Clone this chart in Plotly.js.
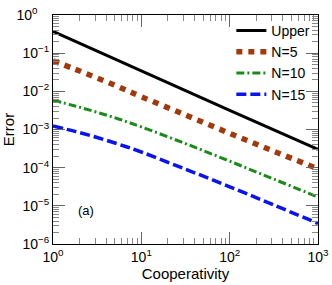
<!DOCTYPE html>
<html>
<head>
<meta charset="utf-8">
<script src="https://cdn.plot.ly/plotly-3.0.1.min.js"></script>
<style>
html,body{margin:0;padding:0;background:#fff;}
#chart{width:332px;height:285px;}
</style>
</head>
<body>
<div id="chart"></div>
<script>
// Data (x = cooperativity, y = error)
var xUpper = [1, 10, 100, 1000];
var yUpper = [0.372, 0.0339, 0.00316, 0.000302];

var xN = [1, 1.778, 3.162, 5.623, 10, 31.62, 100, 316.2, 1000];
var yN5  = [0.0631, 0.0380, 0.0224, 0.0129, 0.00724, 0.0024, 0.000794, 0.000269, 0.0000933];
var yN10 = [0.00589, 0.00412, 0.00282, 0.00186, 0.00117, 0.000427, 0.000148, 0.0000501, 0.000017];
var yN15 = [0.00123, 0.000891, 0.000617, 0.000407, 0.000257, 0.0000912, 0.0000316, 0.0000105, 0.00000347];

var seriesNames = ['Upper', 'N=5', 'N=10', 'N=15'];

var xTickVals = [1, 10, 100, 1000];
var xTickText = ['10<sup>0</sup>', '10<sup>1</sup>', '10<sup>2</sup>', '10<sup>3</sup>'];
var yTickVals = [1, 0.1, 0.01, 0.001, 0.0001, 0.00001, 0.000001];
var yTickText = ['10<sup>0</sup>&nbsp;&nbsp;&nbsp;', '10<sup>\u22121</sup>', '10<sup>\u22122</sup>', '10<sup>\u22123</sup>',
                 '10<sup>\u22124</sup>', '10<sup>\u22125</sup>', '10<sup>\u22126</sup>'];

var FONT = 'Liberation Sans, Arial, Helvetica, sans-serif';

var traces = [
  {x: xUpper, y: yUpper, name: seriesNames[0], mode: 'lines',
   line: {color: '#000000', width: 3}},
  {x: xN, y: yN5, name: seriesNames[1], mode: 'lines',
   line: {color: '#a3380a', width: 5.5, dash: '6px,6px', shape: 'spline', smoothing: 1}},
  {x: xN, y: yN10, name: seriesNames[2], mode: 'lines',
   line: {color: '#178c17', width: 3, dash: '8px,3px,2px,3px', shape: 'spline', smoothing: 1}},
  {x: xN, y: yN15, name: seriesNames[3], mode: 'lines',
   line: {color: '#0a14f0', width: 3.5, dash: '10px,4px', shape: 'spline', smoothing: 1}}
];

var axisCommon = {
  type: 'log',
  showline: true, linecolor: '#000', linewidth: 1,
  mirror: 'allticks',
  ticks: 'inside', ticklen: 12, tickwidth: 1, tickcolor: '#666',
  showgrid: false, zeroline: false,
  tickmode: 'array',
  tickfont: {family: FONT, size: 14, color: '#000'},
  minor: {ticks: 'inside', ticklen: 6, tickwidth: 1, tickcolor: '#888', dtick: 'D1', showgrid: false}
};

var layout = {
  width: 332, height: 285,
  margin: {l: 53, r: 14, t: 15, b: 41},
  paper_bgcolor: '#fff', plot_bgcolor: '#fff',
  showlegend: true,
  legend: {x: 0.99, y: 1.0, xanchor: 'right', yanchor: 'top',
           bgcolor: 'rgba(0,0,0,0)', borderwidth: 0,
           font: {family: FONT, size: 14, color: '#000'},
           tracegroupgap: 0, itemwidth: 30},
  xaxis: Object.assign({}, axisCommon, {
    range: [0, 3], tickvals: xTickVals, ticktext: xTickText,
    title: {text: 'Cooperativity', font: {family: FONT, size: 15, color: '#000'}, standoff: 1}
  }),
  yaxis: Object.assign({}, axisCommon, {
    range: [-6, 0], tickvals: yTickVals, ticktext: yTickText,
    title: {text: 'Error', font: {family: FONT, size: 15, color: '#000'}, standoff: 0}
  }),
  annotations: [{
    xref: 'paper', yref: 'paper', x: 0.088, y: 0.105,
    text: '(a)', showarrow: false,
    font: {family: FONT, size: 13, color: '#000'}
  }]
};

Plotly.newPlot('chart', traces, layout, {displayModeBar: false, staticPlot: true});
</script>
</body>
</html>
